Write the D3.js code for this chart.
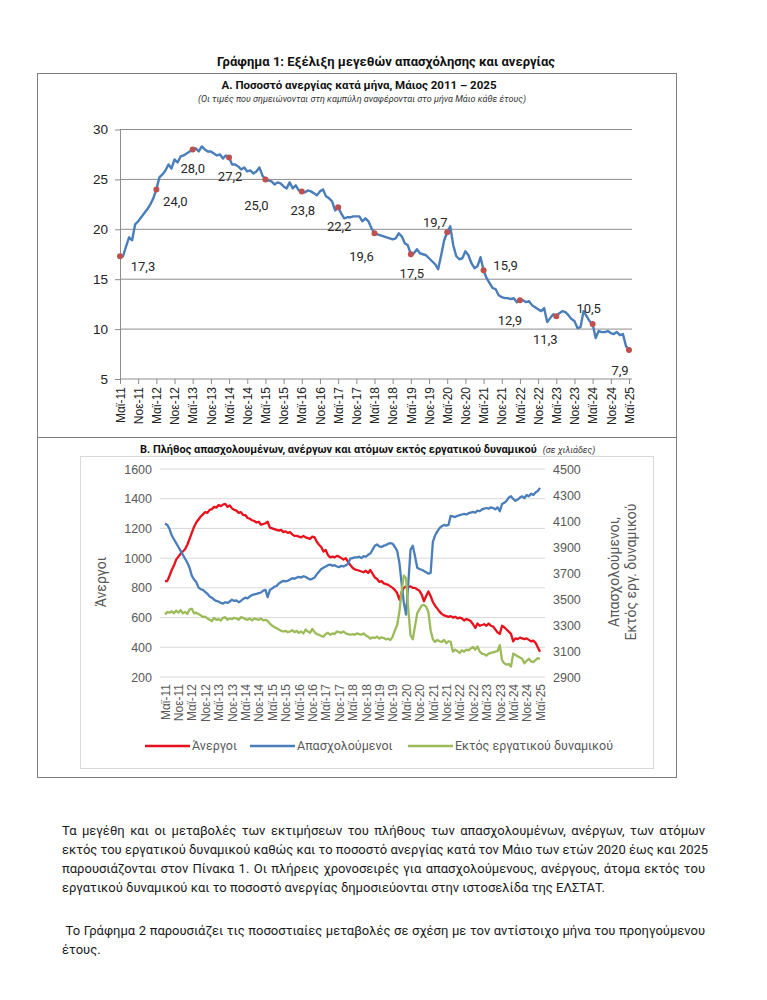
<!DOCTYPE html>
<html>
<head>
<meta charset="utf-8">
<script src="https://cdn.jsdelivr.net/npm/d3@7"></script>
<style>
  body { margin: 0; background: #fff; font-family: Roboto, "Noto Sans", sans-serif; }
  #page { position: relative; width: 767px; height: 1000px; }
  svg { position: absolute; left: 0; top: 0; }
  .ln { position: absolute; left: 62px; width: 643px; font-size: 13px; line-height: 19px;
        color: #1a1a1a; white-space: nowrap; }
  .just { text-align: justify; text-align-last: justify; }
</style>
</head>
<body>
<div id="page"><svg id="chart" width="767" height="1000"></svg></div>
<script>
// ---- data (monthly, May 2011 .. May 2025) ----
const tickLabels = ["Μαϊ-11","Νοε-11","Μαϊ-12","Νοε-12","Μαϊ-13","Νοε-13","Μαϊ-14","Νοε-14",
  "Μαϊ-15","Νοε-15","Μαϊ-16","Νοε-16","Μαϊ-17","Νοε-17","Μαϊ-18","Νοε-18","Μαϊ-19","Νοε-19",
  "Μαϊ-20","Νοε-20","Μαϊ-21","Νοε-21","Μαϊ-22","Νοε-22","Μαϊ-23","Νοε-23","Μαϊ-24","Νοε-24","Μαϊ-25"];

// unemployment rate %
const rate = [
  17.3, 17.3, 18.3, 19.2, 18.9, 20.5, 20.8, 21.2,
  21.6, 22.0, 22.5, 23.1, 24.0, 25.2, 25.5, 25.9, 26.5, 26.1, 27.0, 26.7,
  27.3, 27.4, 27.6, 27.8, 28.0, 28.1, 27.8, 28.3, 28.0, 27.8, 27.8, 27.6,
  27.4, 27.5, 27.1, 27.4, 27.2, 26.5, 26.5, 26.3, 26.0, 26.2, 25.8, 25.9,
  25.6, 25.8, 26.2, 25.4, 25.0, 24.9, 24.8, 24.5, 24.7, 24.6, 24.3, 24.1,
  24.7, 24.1, 24.4, 23.9, 23.8, 23.7, 23.9, 23.8, 23.6, 23.4, 23.8, 24.0,
  23.3, 23.1, 22.8, 21.9, 22.2, 21.6, 21.1, 21.2, 21.2, 21.3, 21.3, 21.3,
  20.8, 21.1, 20.8, 20.1, 19.6, 19.5, 19.4, 19.3, 19.2, 19.1, 19.0, 19.1,
  19.6, 19.3, 18.6, 18.4, 17.5, 17.6, 18.0, 17.6, 17.5, 17.4, 17.1, 16.8,
  16.5, 16.0, 17.4, 18.9, 19.7, 20.3, 18.4, 17.3, 17.0, 17.1, 17.8, 17.4,
  16.6, 16.1, 16.3, 17.2, 15.9, 15.1, 14.6, 14.1, 14.0, 13.4, 13.2, 13.1,
  13.1, 13.0, 13.1, 12.7, 12.9, 12.9, 12.7, 12.8, 12.4, 12.2, 12.0, 11.8,
  12.1, 10.7, 11.1, 11.5, 11.3, 11.6, 11.8, 11.7, 11.4, 11.0, 10.8, 10.1,
  10.2, 11.8, 11.3, 10.8, 10.5, 9.1, 9.8, 9.7, 9.7, 9.8, 9.6, 9.5,
  9.7, 9.4, 9.5, 8.3, 7.9
];

// thousands
const unemployed = [
  845, 845, 880, 920, 950, 990, 1010, 1030,
  1045, 1060, 1090, 1130, 1170, 1210, 1240, 1260, 1280, 1295, 1310, 1305,
  1325, 1330, 1345, 1340, 1357, 1350, 1360, 1365, 1345, 1355, 1335, 1325,
  1320, 1305, 1310, 1290, 1290, 1270, 1265, 1255, 1250, 1240, 1245, 1225,
  1230, 1235, 1245, 1205, 1200, 1195, 1190, 1185, 1190, 1175, 1180, 1170,
  1175, 1160, 1150, 1150, 1145, 1140, 1150, 1140, 1135, 1130, 1145, 1140,
  1110, 1090, 1075, 1045, 1055, 1020, 1005, 1010, 1005, 1015, 1010, 1000,
  990, 1000, 975, 955, 935, 925, 920, 915, 910, 905, 915, 900,
  920, 895, 870, 860, 840, 845, 830, 825, 820, 810, 800, 785,
  765, 720, 770, 800, 810, 805, 810, 800, 800, 790, 780, 755,
  710, 745, 775, 745, 705, 680, 660, 640, 625, 615, 610, 605,
  610, 600, 605, 595, 600, 595, 580, 590, 585, 575, 555, 530,
  560, 545, 550, 555, 545, 560, 545, 540, 520, 500, 490, 545,
  535, 520, 505, 490, 440, 460, 455, 465, 460, 455, 460, 450,
  440, 445, 430, 400, 370
];

const employed = [
  4080, 4070, 4040, 3990, 3960, 3930, 3900, 3870,
  3840, 3810, 3780, 3740, 3680, 3650, 3630, 3590, 3575, 3570, 3555, 3540,
  3520, 3510, 3495, 3485, 3480, 3470, 3465, 3475, 3470, 3480, 3495, 3485,
  3490, 3475, 3485, 3500, 3510, 3505, 3520, 3530, 3535, 3540, 3545, 3550,
  3565, 3570, 3515, 3570, 3580, 3595, 3600, 3620, 3630, 3640, 3635, 3640,
  3650, 3660, 3655, 3665, 3670, 3665, 3675, 3670, 3660, 3650, 3655, 3665,
  3690, 3710, 3730, 3740, 3750, 3760, 3765, 3755, 3760, 3750, 3745, 3755,
  3750, 3760, 3770, 3810, 3815, 3820, 3820, 3825, 3815, 3830, 3825, 3840,
  3850, 3880, 3910, 3920, 3905, 3900, 3910, 3915, 3925, 3930, 3925, 3900,
  3870, 3780, 3620, 3470, 3380, 3620, 3880, 3910, 3830, 3740, 3730, 3725,
  3715, 3705, 3695, 3700, 3940, 3990, 4020, 4045, 4060, 4070, 4065, 4070,
  4140, 4135, 4130, 4140, 4145, 4150, 4155, 4150, 4160, 4165, 4170, 4165,
  4180, 4175, 4190, 4195, 4200, 4195, 4205, 4200, 4190, 4205, 4175, 4230,
  4240, 4255, 4280, 4290, 4270, 4255, 4265, 4280, 4290, 4275, 4300, 4290,
  4310, 4300, 4320, 4330, 4355
];

const inactive = [
  3380, 3400, 3395, 3405, 3390, 3410, 3395, 3415,
  3390, 3400, 3385, 3420, 3425, 3390, 3395, 3385, 3375, 3360, 3365, 3350,
  3340, 3330, 3355, 3340, 3345, 3335, 3355, 3360, 3340, 3350, 3345, 3355,
  3350, 3340, 3360, 3355, 3345, 3340, 3350, 3335, 3350, 3345, 3340, 3350,
  3335, 3340, 3330, 3310, 3295, 3285, 3275, 3265, 3255, 3250, 3255, 3245,
  3250, 3260, 3245, 3255, 3240, 3250, 3235, 3265, 3250, 3240, 3270, 3245,
  3230, 3225, 3215, 3210, 3230, 3240, 3225, 3235, 3230, 3250, 3245, 3240,
  3250, 3235, 3230, 3225, 3230, 3225, 3235, 3230, 3225, 3235, 3220, 3210,
  3195, 3205, 3200, 3210, 3195, 3205, 3200, 3190, 3195, 3185, 3210, 3260,
  3300, 3400, 3560, 3680, 3660, 3420, 3220, 3190, 3290, 3390, 3420, 3450,
  3455, 3440, 3400, 3260, 3190, 3170, 3185, 3175, 3170, 3185, 3160, 3175,
  3170, 3095, 3110, 3100, 3085, 3105, 3095, 3110, 3105, 3120, 3130, 3110,
  3135, 3095, 3080, 3075, 3065, 3080, 3085, 3090, 3095, 3100, 3145, 3030,
  3005, 2995, 3000, 2980, 3080, 3070, 3060, 3050, 3040, 3005, 3025, 3040,
  3020, 3015, 3030, 3045, 3040
];

// label placement (dx, dy) for the May values, one per year 2011..2025
const mayLabelOffsets = [[23,10],[19,12],[0,19],[1,19],[-9,26],[1,19],[1,19],[-13,23],
  [1,19],[-12,-10],[22,-5],[-10,20],[-11,23],[-4,-16],[-9,20]];

const seriesNames = ["Άνεργοι", "Απασχολούμενοι", "Εκτός εργατικού δυναμικού"];
const seriesColors = ["#e8101a", "#4a7ebb", "#9bbb59"];

const svg = d3.select("#chart");
const fmt = v => d3.format(".1f")(v).replace(".", ",");
const n = rate.length;
const tickIdx = d3.range(0, n, 6);

// ---- titles and frame ----
svg.append("text").attr("x", 386).attr("y", 66).attr("text-anchor", "middle")
  .style("font-size", "13px").style("font-weight", "bold").attr("fill", "#111")
  .text("Γράφημα 1: Εξέλιξη μεγεθών απασχόλησης και ανεργίας");

svg.append("rect").attr("x", 37.5).attr("y", 73.5).attr("width", 639).attr("height", 704)
  .attr("fill", "none").attr("stroke", "#7f7f7f");
svg.append("line").attr("x1", 37).attr("x2", 677).attr("y1", 437.5).attr("y2", 437.5)
  .attr("stroke", "#7f7f7f");

svg.append("text").attr("x", 359).attr("y", 89).attr("text-anchor", "middle")
  .style("font-size", "11.5px").style("font-weight", "bold").attr("fill", "#111")
  .text("Α. Ποσοστό ανεργίας κατά μήνα, Μάιος 2011 – 2025");
svg.append("text").attr("x", 362).attr("y", 102).attr("text-anchor", "middle")
  .style("font-size", "9px").style("font-style", "italic").attr("fill", "#333")
  .text("(Οι τιμές που σημειώνονται στη καμπύλη αναφέρονται στο μήνα Μάιο κάθε έτους)");

// ---- panel A ----
const xA = d3.scaleLinear().domain([0, n - 1]).range([120, 629]);
const yA = d3.scaleLinear().domain([5, 30]).range([379, 129.5]);

const gA = svg.append("g");
gA.selectAll("line.grid").data([10, 15, 20, 25, 30]).enter().append("line")
  .attr("class", "grid").attr("x1", 120).attr("x2", 632)
  .attr("y1", d => yA(d)).attr("y2", d => yA(d))
  .attr("stroke", "#8c8c8c").attr("stroke-width", 1);

const axA = gA.append("g").attr("transform", "translate(120,0)")
  .call(d3.axisLeft(yA).tickValues([5, 10, 15, 20, 25, 30]).tickSize(5).tickPadding(7).tickSizeOuter(0));
axA.selectAll("text").style("font-size", "13.5px").attr("fill", "#222");
axA.selectAll("line,path").attr("stroke", "#8c8c8c");

const axAx = gA.append("g").attr("transform", "translate(0,379)")
  .call(d3.axisBottom(xA).tickValues(tickIdx).tickFormat((d, i) => tickLabels[i]).tickSize(5).tickSizeOuter(0));
axAx.select("path").attr("d", "M120,0H632");
axAx.selectAll("line,path").attr("stroke", "#8c8c8c");
axAx.selectAll("text").attr("transform", "rotate(-90)").attr("text-anchor", "end")
  .attr("x", -8).attr("y", 0).attr("dy", "0.35em")
  .style("font-size", "12px").attr("fill", "#222");

gA.append("path").datum(rate)
  .attr("d", d3.line().x((d, i) => xA(i)).y(d => yA(d)))
  .attr("fill", "none").attr("stroke", "#4a7ebb").attr("stroke-width", 2.4)
  .attr("stroke-linejoin", "round");

const mayIdx = d3.range(0, n, 12);
gA.selectAll("circle.mk").data(mayIdx).enter().append("circle").attr("class", "mk")
  .attr("cx", i => xA(i)).attr("cy", i => yA(rate[i])).attr("r", 3)
  .attr("fill", "#c0504d");

gA.selectAll("text.lbl").data(mayIdx).enter().append("text").attr("class", "lbl")
  .attr("x", (i, k) => xA(i) + mayLabelOffsets[k][0])
  .attr("y", (i, k) => yA(rate[i]) + mayLabelOffsets[k][1])
  .attr("dy", "0.35em").attr("text-anchor", "middle")
  .style("font-size", "13px").attr("fill", "#262626")
  .text(i => fmt(rate[i]));

// ---- panel B ----
svg.append("rect").attr("x", 80.5).attr("y", 456.5).attr("width", 573).attr("height", 312)
  .attr("fill", "none").attr("stroke", "#d9d9d9");

const tB = svg.append("text").attr("x", 140).attr("y", 453).attr("fill", "#111");
tB.append("tspan").style("font-size", "11px").style("font-weight", "bold")
  .text("Β. Πλήθος απασχολουμένων, ανέργων και ατόμων εκτός εργατικού δυναμικού");
tB.append("tspan").attr("dx", 6).style("font-size", "9px").style("font-style", "italic").attr("fill", "#333")
  .text("(σε χιλιάδες)");

const xB = d3.scaleLinear().domain([0, n - 1]).range([165, 540]);
const yL = d3.scaleLinear().domain([200, 1600]).range([677, 469]);
const yR = d3.scaleLinear().domain([2900, 4500]).range([677, 469]);

const gB = svg.append("g");
gB.selectAll("line.grid").data(d3.range(200, 1601, 200)).enter().append("line")
  .attr("class", "grid").attr("x1", 160).attr("x2", 545)
  .attr("y1", d => yL(d)).attr("y2", d => yL(d))
  .attr("stroke", "#d9d9d9");

const axL = gB.append("g").attr("transform", "translate(160,0)")
  .call(d3.axisLeft(yL).tickValues(d3.range(200, 1601, 200)).tickFormat(d3.format("d")).tickSize(0).tickPadding(8));
axL.select("path").remove();
axL.selectAll("text").style("font-size", "12.5px").attr("fill", "#595959");

const axR = gB.append("g").attr("transform", "translate(545,0)")
  .call(d3.axisRight(yR).tickValues(d3.range(2900, 4501, 200)).tickFormat(d3.format("d")).tickSize(0).tickPadding(8));
axR.select("path").remove();
axR.selectAll("text").style("font-size", "12.5px").attr("fill", "#595959");

const axBx = gB.append("g").attr("transform", "translate(0,677)")
  .call(d3.axisBottom(xB).tickValues(tickIdx).tickFormat((d, i) => tickLabels[i]).tickSize(0));
axBx.select("path").remove();
axBx.selectAll("text").attr("transform", "rotate(-90)").attr("text-anchor", "end")
  .attr("x", -7).attr("y", 0).attr("dy", "0.35em")
  .style("font-size", "12px").attr("fill", "#595959");

const lineL = d3.line().x((d, i) => xB(i)).y(d => yL(d));
const lineR = d3.line().x((d, i) => xB(i)).y(d => yR(d));
[[unemployed, lineL], [employed, lineR], [inactive, lineR]].forEach(([s, f], k) => {
  gB.append("path").datum(s).attr("d", f)
    .attr("fill", "none").attr("stroke", seriesColors[k]).attr("stroke-width", 2.3)
    .attr("stroke-linejoin", "round");
});

svg.append("text").attr("transform", "translate(106,582) rotate(-90)").attr("text-anchor", "middle")
  .style("font-size", "14px").attr("fill", "#595959").text("Άνεργοι");
const tR = svg.append("text").attr("transform", "translate(619,572) rotate(-90)").attr("text-anchor", "middle")
  .style("font-size", "14px").attr("fill", "#595959");
tR.append("tspan").attr("x", 0).attr("dy", 0).text("Απασχολούμενοι,");
tR.append("tspan").attr("x", 0).attr("dy", 17).text("Εκτός εργ. δυναμικού");

// legend
const legX = [145, 250, 408];
const leg = svg.selectAll("g.leg").data(seriesNames).enter().append("g").attr("class", "leg")
  .attr("transform", (d, i) => `translate(${legX[i]},746)`);
leg.append("line").attr("x1", 0).attr("x2", 45).attr("stroke", (d, i) => seriesColors[i]).attr("stroke-width", 2.5);
leg.append("text").attr("x", 47).attr("dy", "0.35em").style("font-size", "12.5px").attr("fill", "#595959")
  .text(d => d);

// ---- body text ----
const paraLines = [
  ["Τα μεγέθη και οι μεταβολές των εκτιμήσεων του πλήθους των απασχολουμένων, ανέργων, των ατόμων", 821, true],
  ["εκτός του εργατικού δυναμικού καθώς και το ποσοστό ανεργίας κατά τον Μάιο των ετών 2020 έως και 2025", 840, true],
  ["παρουσιάζονται στον Πίνακα 1. Οι πλήρεις χρονοσειρές για απασχολούμενους, ανέργους, άτομα εκτός του", 859, true],
  ["εργατικού δυναμικού και το ποσοστό ανεργίας δημοσιεύονται στην ιστοσελίδα της ΕΛΣΤΑΤ.", 878, false],
  ["\u00a0Το Γράφημα 2 παρουσιάζει τις ποσοστιαίες μεταβολές σε σχέση με τον αντίστοιχο μήνα του προηγούμενου", 921, true],
  ["έτους.", 940, false]
];
d3.select("#page").selectAll("div.ln").data(paraLines).enter().append("div")
  .attr("class", d => d[2] ? "ln just" : "ln")
  .style("top", d => d[1] + "px")
  .text(d => d[0]);
</script>
</body>
</html>
